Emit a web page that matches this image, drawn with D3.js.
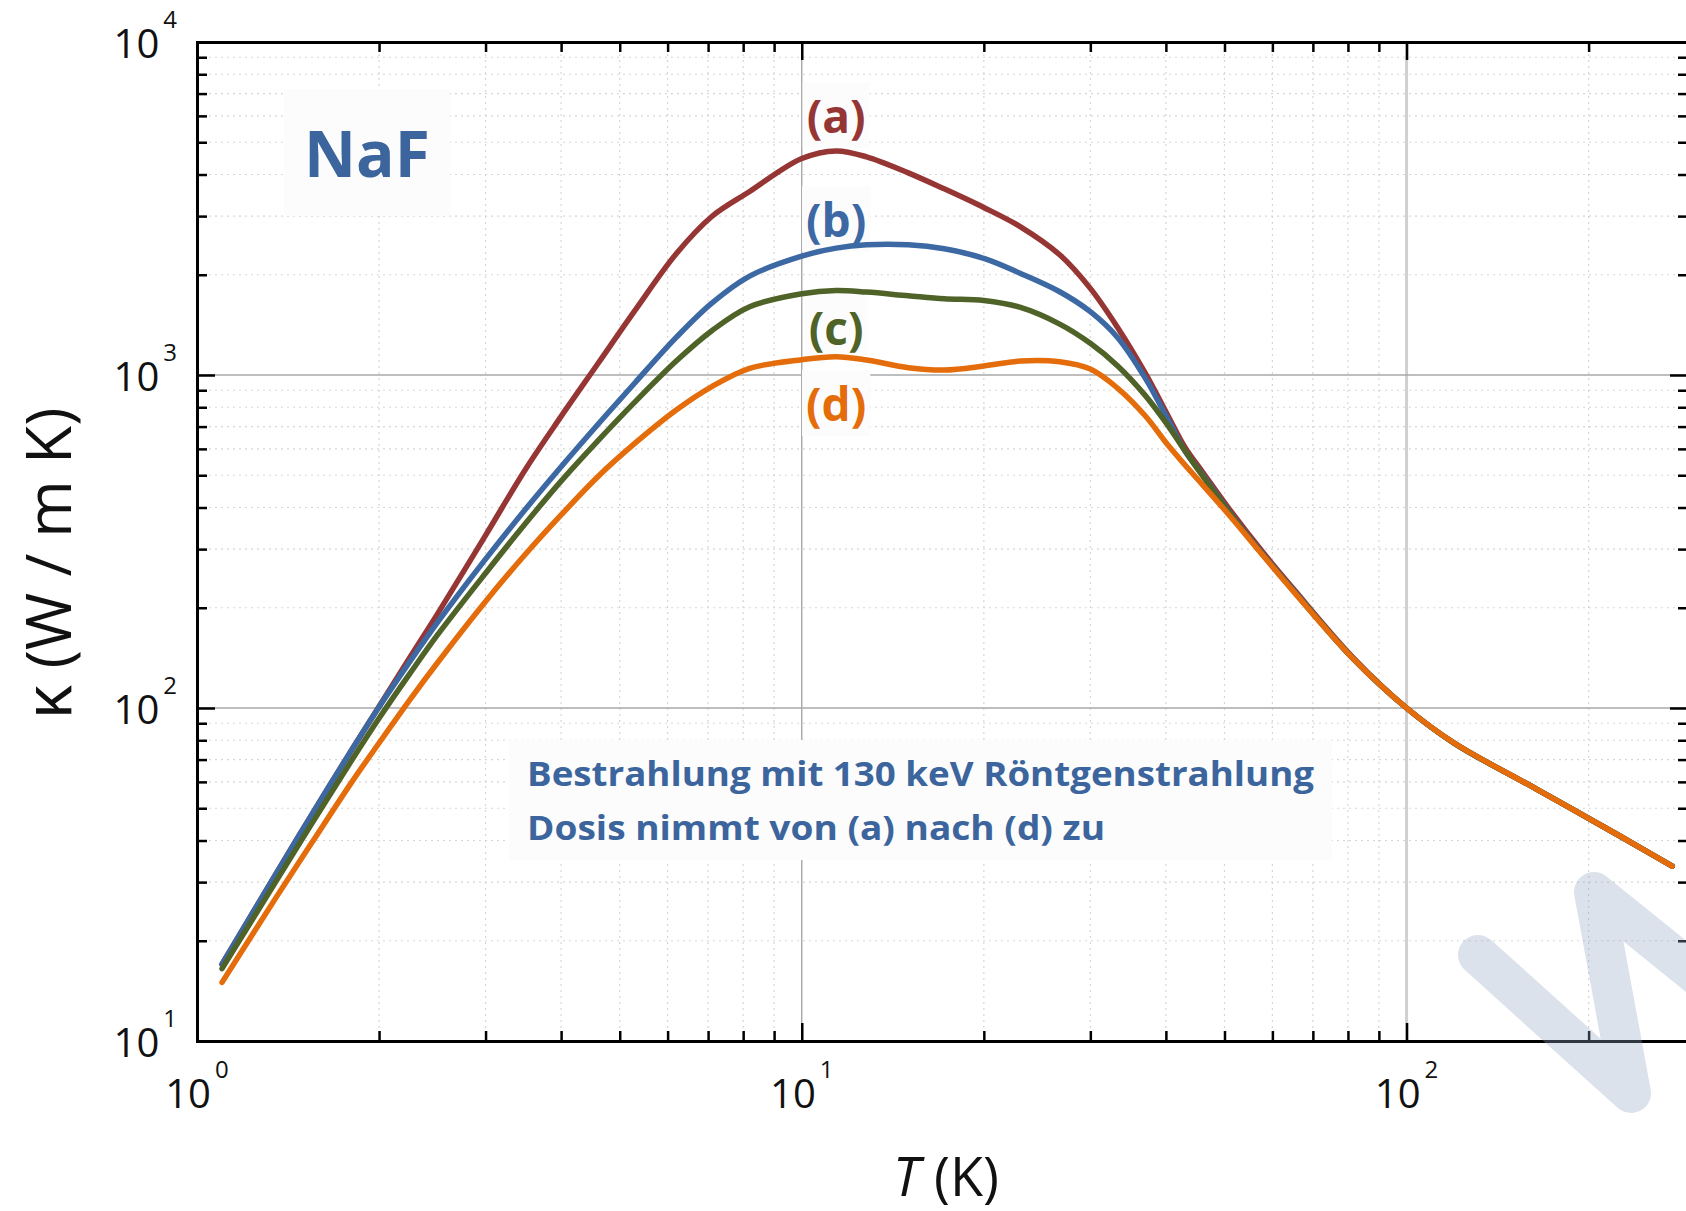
<!DOCTYPE html>
<html>
<head>
<meta charset="utf-8">
<script src="https://cdn.jsdelivr.net/npm/d3@7"></script>
<style>
  body { margin: 0; background: #fff; }
  svg { display: block; font-family: 'Open Sans', sans-serif; }
</style>
</head>
<body>
<div id="chart"></div>
<script>
// temperature grid (K) shared by all four curves
var tempK  = [1.1, 1.35, 1.55, 1.8, 2.0, 2.25, 2.5, 3.0, 3.5, 4.0,
              4.6, 5.3, 6.2, 7.1, 8.2, 10, 11.4, 12.8, 15, 17.2,
              20, 23, 26.7, 30, 33.3, 37, 40, 43, 46, 51,
              58, 65, 81.5, 100, 120, 164, 223, 275];
// thermal conductivity (W / m K), dose increasing a -> d
var kappaA = [17.0, 31.7, 48.0, 74.6, 101, 142, 192, 330, 524, 751,
              1081, 1563, 2312, 2992, 3556, 4467, 4710, 4519, 4046, 3622,
              3184, 2786, 2296, 1820, 1387, 1011, 776, 607, 511, 394,
              292, 228, 142, 100, 78.4, 57.1, 41.7, 33.5];
var kappaB = [17.0, 31.7, 48.0, 74.6, 100.7, 138, 181, 280, 397, 530,
              710, 948, 1297, 1644, 1982, 2275, 2404, 2460, 2460, 2393,
              2239, 2018, 1778, 1549, 1294, 977, 755, 592, 501, 387,
              288, 226, 141, 100, 78.3, 57.1, 41.7, 33.5];
var kappaC = [16.5, 30.1, 45.1, 69.4, 93.1, 127, 166, 254, 360, 480,
              634, 830, 1101, 1358, 1603, 1754, 1795, 1774, 1730, 1694,
              1675, 1596, 1422, 1245, 1065, 867, 719, 593, 498, 385,
              287, 225, 141, 100, 78.3, 57.1, 41.7, 33.5];
var kappaD = [15.0, 26.9, 39.5, 59.7, 78.5, 106, 137, 209, 291, 380,
              495, 624, 785, 923, 1047, 1112, 1135, 1109, 1052, 1035,
              1064, 1102, 1096, 1042, 912, 753, 627, 537, 468, 378,
              286, 224, 141, 100, 78.4, 57.1, 41.7, 33.5];

var seriesNames = ['(a)', '(b)', '(c)', '(d)'];
var xMajorTicks = [1, 10, 100];
var yMajorTicks = [10, 100, 1000, 10000];
var noteLines = ['Bestrahlung mit 130 keV Röntgenstrahlung', 'Dosis nimmt von (a) nach (d) zu'];

// ---- layout / style ----
var colors = ['#963634', '#3c68a3', '#4f6228', '#e46c0a'];
var textBlue = '#3b659c';
var W = 1686, H = 1211;
var plot = { left: 197, right: 1688, top: 42, bottom: 1041 };

var svg = d3.select('#chart').append('svg')
    .attr('width', W)
    .attr('height', H);

var x = d3.scaleLog().domain([1, 292]).range([plot.left, plot.right]);
var y = d3.scaleLog().domain([10, 10000]).range([plot.bottom, plot.top]);

function isDecade(v) {
  var l = Math.log10(v);
  return Math.abs(l - Math.round(l)) < 1e-9;
}
var xMinor = x.ticks().filter(function(v){ return !isDecade(v); });
var yMinor = y.ticks().filter(function(v){ return !isDecade(v); });
var xInner = xMajorTicks.filter(function(v){ return v > 1; });
var yInner = yMajorTicks.filter(function(v){ return v > 10 && v < 10000; });

// ---- grid ----
var grid = svg.append('g').attr('class', 'grid');
grid.selectAll('line.vmin').data(xMinor).enter().append('line')
  .attr('x1', x).attr('x2', x)
  .attr('y1', plot.top).attr('y2', plot.bottom)
  .attr('stroke', '#d6d6d6').attr('stroke-width', 1.2)
  .attr('stroke-dasharray', '2,4');
grid.selectAll('line.hmin').data(yMinor).enter().append('line')
  .attr('y1', y).attr('y2', y)
  .attr('x1', plot.left).attr('x2', plot.right)
  .attr('stroke', '#d6d6d6').attr('stroke-width', 1.2)
  .attr('stroke-dasharray', '2,4');
grid.selectAll('line.vmaj').data(xInner).enter().append('line')
  .attr('x1', x).attr('x2', x)
  .attr('y1', plot.top).attr('y2', plot.bottom)
  .attr('stroke', function(d){ return d === 100 ? '#d0d0d0' : '#a0a0a0'; })
  .attr('stroke-width', function(d){ return d === 100 ? 3 : 1.3; });
grid.selectAll('line.hmaj').data(yInner).enter().append('line')
  .attr('y1', y).attr('y2', y)
  .attr('x1', plot.left).attr('x2', plot.right)
  .attr('stroke', '#a8a8a8').attr('stroke-width', 1.3);

// ---- text boxes (light backgrounds hiding the grid) ----
var boxes = svg.append('g');
var notes = svg.append('g');

var naf = notes.append('text')
  .attr('x', 304).attr('y', 177)
  .attr('fill', textBlue)
  .style('font-size', '64px')
  .style('font-weight', 'bold')
  .text('NaF');

var note = notes.append('text')
  .attr('fill', textBlue)
  .style('font-size', '34px')
  .style('font-weight', 'bold');
note.selectAll('tspan').data(noteLines).enter().append('tspan')
  .attr('x', 527)
  .attr('y', function(d, i){ return 786 + i * 54; })
  .attr('textLength', function(d, i){ return i === 0 ? 787 : 578; })
  .attr('lengthAdjust', 'spacingAndGlyphs')
  .text(function(d){ return d; });

// curve labels, placed in data coordinates
var labelT = 11.4;
var labelK = [5330, 2600, 1230, 728];
var labels = notes.selectAll('text.lab').data(seriesNames).enter().append('text')
  .attr('class', 'lab')
  .attr('x', function(){ return x(labelT); })
  .attr('y', function(d, i){ return y(labelK[i]); })
  .attr('text-anchor', 'middle')
  .attr('fill', function(d, i){ return colors[i]; })
  .style('font-size', '46px')
  .style('font-weight', 'bold')
  .text(function(d){ return d; });

function addBox(node, padX, padY) {
  var b = node.getBBox();
  boxes.append('rect')
    .attr('x', b.x - padX).attr('y', b.y - padY)
    .attr('width', b.width + 2 * padX).attr('height', b.height + 2 * padY)
    .attr('fill', '#fcfcfc');
}
addBox(naf.node(), 20, 20);
addBox(note.node(), 18, 10);
labels.each(function(){ addBox(this, 4, 2); });

// ---- curves ----
var line = d3.line()
  .x(function(d){ return x(d[0]); })
  .y(function(d){ return y(d[1]); })
  .curve(d3.curveCatmullRom.alpha(0.5));

var curves = svg.append('g').attr('class', 'curves');
[kappaA, kappaB, kappaC, kappaD].forEach(function(k, i){
  curves.append('path')
    .datum(tempK.map(function(t, j){ return [t, k[j]]; }))
    .attr('d', line)
    .attr('fill', 'none')
    .attr('stroke', colors[i])
    .attr('stroke-width', 5.5)
    .attr('stroke-linecap', 'round')
    .attr('stroke-linejoin', 'round');
});
notes.raise();

// ---- axes (ticks inward on all four sides) ----
function addAxis(axis, transform, minor, major) {
  var g = svg.append('g').attr('transform', transform);
  g.call(axis.tickValues(minor).tickSize(-10).tickSizeOuter(0).tickFormat(''));
  g.append('g').call(axis.tickValues(major).tickSize(-18));
  g.selectAll('.domain').attr('stroke', '#000').attr('stroke-width', 3);
  g.selectAll('.tick line').attr('stroke', '#000').attr('stroke-width', 2.5);
  return g;
}
addAxis(d3.axisBottom(x), 'translate(0,' + plot.bottom + ')', xMinor, xInner);
addAxis(d3.axisTop(x), 'translate(0,' + plot.top + ')', xMinor, xInner);
addAxis(d3.axisLeft(y), 'translate(' + plot.left + ',0)', yMinor, yInner);
addAxis(d3.axisRight(y), 'translate(' + plot.right + ',0)', yMinor, yInner);

// ---- tick labels 10^n ----
var xl = svg.append('g').selectAll('text').data(xMajorTicks).enter().append('text')
  .attr('x', function(d){ return x(d); })
  .attr('y', plot.bottom + 67)
  .attr('text-anchor', 'middle')
  .attr('fill', '#111')
  .style('font-size', '40px');
xl.append('tspan').text('10');
xl.append('tspan').attr('dx', 4).attr('dy', -30).style('font-size', '24px')
  .text(function(d){ return Math.round(Math.log10(d)); });

var yl = svg.append('g').selectAll('text').data(yMajorTicks).enter().append('text')
  .attr('x', plot.left - 20)
  .attr('y', function(d){ return y(d) + 16; })
  .attr('text-anchor', 'end')
  .attr('fill', '#111')
  .style('font-size', '40px');
yl.append('tspan').text('10');
yl.append('tspan').attr('dx', 4).attr('dy', -30).style('font-size', '24px')
  .text(function(d){ return Math.round(Math.log10(d)); });

// ---- axis titles ----
var yt = svg.append('text')
  .attr('transform', 'translate(71,' + ((plot.top + plot.bottom) / 2 + 22) + ') rotate(-90)')
  .attr('text-anchor', 'middle')
  .attr('fill', '#111')
  .attr('textLength', 312)
  .attr('lengthAdjust', 'spacingAndGlyphs')
  .style('font-size', '62px');
yt.append('tspan').style('font-size', '66px').text('κ');
yt.append('tspan').text(' (W / m K)');

var xt = svg.append('text')
  .attr('x', 946).attr('y', 1196)
  .attr('text-anchor', 'middle')
  .attr('fill', '#111')
  .style('font-size', '54px');
xt.append('tspan').style('font-style', 'italic').text('T');
xt.append('tspan').text(' (K)');

// ---- watermark fragment in the lower right corner ----
svg.append('path')
  .attr('d', 'M1478,955 L1631,1093 L1594,892 L1719,993')
  .attr('fill', 'none')
  .attr('stroke', 'rgb(150,168,195)')
  .attr('stroke-opacity', 0.33)
  .attr('stroke-width', 40)
  .attr('stroke-linecap', 'round')
  .attr('stroke-linejoin', 'round');
</script>
</body>
</html>
